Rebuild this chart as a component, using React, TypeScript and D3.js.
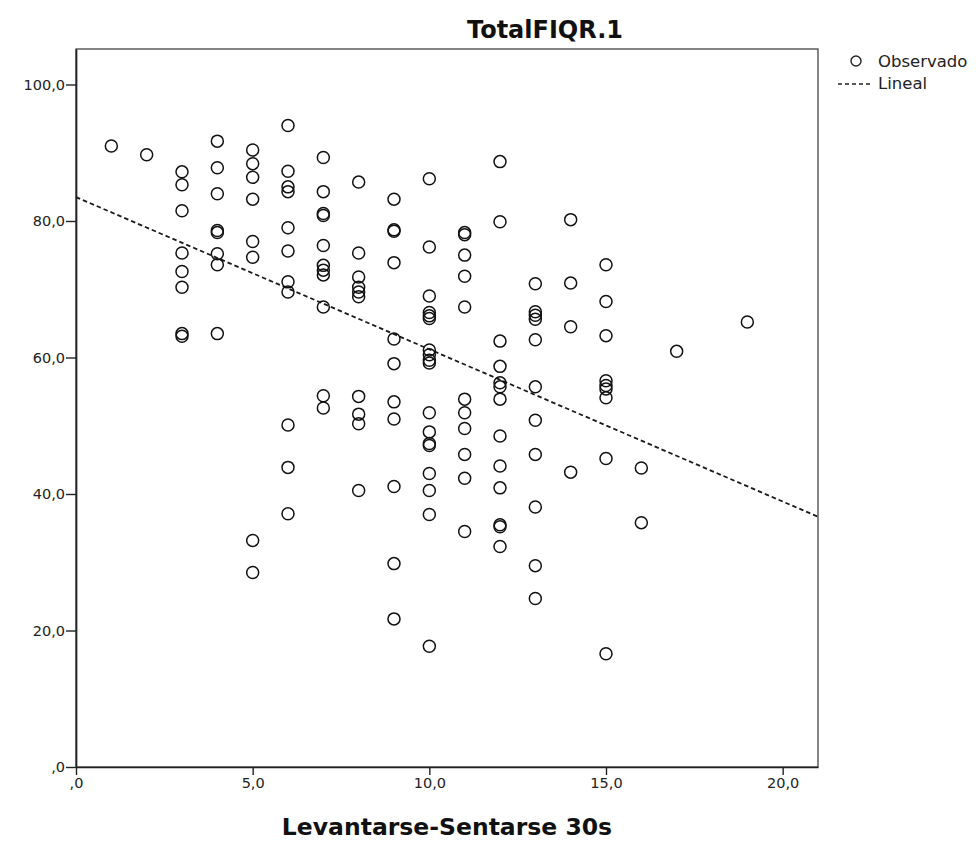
import React, { useEffect, useRef } from 'react';
import * as d3 from 'd3';

// sit-to-stand repetitions in 30 s (x) and FIQR total (y)
const standCount = [
  1,
  2,
  3, 3, 3, 3, 3, 3, 3, 3,
  4, 4, 4, 4, 4, 4, 4, 4,
  5, 5, 5, 5, 5, 5, 5, 5,
  6, 6, 6, 6, 6, 6, 6, 6, 6, 6, 6,
  7, 7, 7, 7, 7, 7, 7, 7, 7, 7, 7,
  8, 8, 8, 8, 8, 8, 8, 8, 8, 8,
  9, 9, 9, 9, 9, 9, 9, 9, 9, 9, 9,
  10, 10, 10, 10, 10, 10, 10, 10, 10, 10, 10, 10, 10, 10, 10, 10, 10, 10,
  11, 11, 11, 11, 11, 11, 11, 11, 11, 11, 11,
  12, 12, 12, 12, 12, 12, 12, 12, 12, 12, 12, 12, 12,
  13, 13, 13, 13, 13, 13, 13, 13, 13, 13, 13,
  14, 14, 14, 14,
  15, 15, 15, 15, 15, 15, 15, 15, 15,
  16, 16,
  17,
  19,
];

const fiqrTotal = [
  91.0,
  89.7,
  87.2, 85.3, 81.5, 75.3, 72.6, 70.3, 63.5, 63.1,
  91.7, 87.8, 84.0, 78.6, 78.3, 75.2, 73.6, 63.5,
  90.4, 88.4, 86.4, 83.2, 77.0, 74.7, 33.2, 28.5,
  94.0, 87.3, 85.0, 84.3, 79.0, 75.6, 71.1, 69.6, 50.1, 43.9, 37.1,
  89.3, 84.3, 81.1, 80.8, 76.4, 73.5, 72.8, 72.1, 67.4, 54.4, 52.6,
  85.7, 75.3, 71.8, 70.3, 69.6, 68.9, 54.3, 51.7, 50.3, 40.5,
  83.2, 78.7, 78.5, 73.9, 62.7, 59.1, 53.5, 51.0, 41.1, 29.8, 21.7,
  86.2, 76.2, 69.0, 66.6, 66.1, 65.7, 61.1, 60.4, 59.6, 59.2, 51.9, 49.1, 47.4, 47.1, 43.0, 40.5, 37.0, 17.7,
  78.3, 78.0, 75.0, 71.9, 67.4, 53.9, 51.9, 49.6, 45.8, 42.3, 34.5,
  88.7, 79.9, 62.4, 58.7, 56.3, 55.7, 53.9, 48.5, 44.1, 40.9, 35.5, 35.2, 32.3,
  70.8, 66.7, 66.2, 65.6, 62.6, 55.7, 50.8, 45.8, 38.1, 29.5, 24.7,
  80.2, 70.9, 64.5, 43.2,
  73.6, 68.2, 63.2, 56.6, 55.9, 55.4, 54.1, 45.2, 16.6,
  43.8, 35.8,
  60.9,
  65.2,
];

// linear fit as drawn
const fitIntercept = 83.5;
const fitSlope = -2.23;

const xTicks = [0, 5, 10, 15, 20];
const yTicks = [0, 20, 40, 60, 80, 100];
const legendLabels = ['Observado', 'Lineal'];

const W = 978;
const H = 842;
const margin = { top: 49, right: 160, bottom: 75, left: 76 };

const fmt = (v: number) => (v === 0 ? ',0' : v.toFixed(1).replace('.', ','));

export default function App() {
  const ref = useRef<SVGSVGElement>(null);

  useEffect(() => {
    const svg = d3.select(ref.current);
    svg.selectAll('*').remove();

    const x = d3.scaleLinear().domain([0, 21]).range([margin.left, W - margin.right]);
    const y = d3.scaleLinear().domain([0, 105.2]).range([H - margin.bottom, margin.top]);

    const font = 'DejaVu Sans, sans-serif';

    // frame
    svg.append('rect')
      .attr('x', x(0))
      .attr('y', y(105.2))
      .attr('width', x(21) - x(0))
      .attr('height', y(0) - y(105.2))
      .attr('fill', 'none')
      .attr('stroke', '#444')
      .attr('stroke-width', 1.3);

    const gx = svg.append('g')
      .attr('transform', `translate(0,${y(0)})`)
      .call(d3.axisBottom(x).tickValues(xTicks).tickFormat((d: any) => fmt(+d)).tickSize(8).tickSizeOuter(0));
    const gy = svg.append('g')
      .attr('transform', `translate(${x(0)},0)`)
      .call(d3.axisLeft(y).tickValues(yTicks).tickFormat((d: any) => fmt(+d)).tickSize(10).tickSizeOuter(0));

    [gx, gy].forEach(g => {
      g.select('.domain').attr('stroke', '#222').attr('stroke-width', 1.7);
      g.selectAll('.tick line').attr('stroke', '#222').attr('stroke-width', 1.4);
      g.selectAll('.tick text')
        .attr('font-family', font)
        .attr('font-size', 14.5)
        .attr('fill', '#222');
    });
    gx.selectAll('.tick text').attr('y', 7).attr('dy', '0.95em');
    gy.selectAll('.tick text').attr('x', -11);

    // regression line
    svg.append('line')
      .attr('x1', x(0))
      .attr('y1', y(fitIntercept))
      .attr('x2', x(21))
      .attr('y2', y(fitIntercept + fitSlope * 21))
      .attr('stroke', '#1a1a1a')
      .attr('stroke-width', 1.8)
      .attr('stroke-dasharray', '4.5,3');

    // observed points
    svg.append('g')
      .selectAll('circle')
      .data(standCount.map((s, i) => [s, fiqrTotal[i]]))
      .enter().append('circle')
      .attr('cx', d => x(d[0]))
      .attr('cy', d => y(d[1]))
      .attr('r', 6)
      .attr('fill', 'none')
      .attr('stroke', '#111')
      .attr('stroke-width', 1.5);

    // titles
    svg.append('text')
      .attr('x', 545)
      .attr('y', 38)
      .attr('text-anchor', 'middle')
      .attr('font-family', font)
      .attr('font-weight', 'bold')
      .attr('font-size', 24)
      .attr('fill', '#111')
      .text('TotalFIQR.1');

    svg.append('text')
      .attr('x', (x(0) + x(21)) / 2)
      .attr('y', 835)
      .attr('text-anchor', 'middle')
      .attr('font-family', font)
      .attr('font-weight', 'bold')
      .attr('font-size', 23.5)
      .attr('fill', '#111')
      .text('Levantarse-Sentarse 30s');

    // legend
    const lg = svg.append('g').attr('font-family', font).attr('font-size', 16.5).attr('fill', '#222');
    lg.append('circle').attr('cx', 856).attr('cy', 61).attr('r', 5)
      .attr('fill', 'none').attr('stroke', '#222').attr('stroke-width', 1.4);
    lg.append('line').attr('x1', 838).attr('x2', 872).attr('y1', 84).attr('y2', 84)
      .attr('stroke', '#222').attr('stroke-width', 1.5).attr('stroke-dasharray', '4,3');
    lg.selectAll('text.lab')
      .data(legendLabels)
      .enter().append('text')
      .attr('class', 'lab')
      .attr('x', 878)
      .attr('y', (d, i) => 67 + i * 22)
      .text(d => d);
  }, []);

  return (
    <svg ref={ref} width={W} height={H}
      style={{ position: 'absolute', left: 0, top: 0, background: '#fff' }} />
  );
}
